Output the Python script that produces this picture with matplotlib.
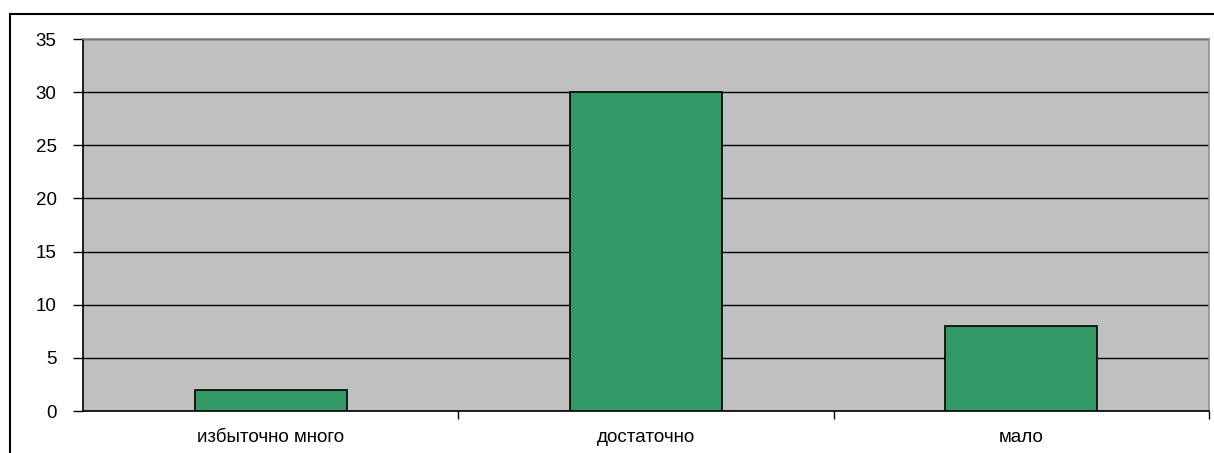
import matplotlib.pyplot as plt
from matplotlib.lines import Line2D

categories = ["избыточно много", "достаточно", "мало"]
values = [2, 30, 8]
yticks = [0, 5, 10, 15, 20, 25, 30, 35]

plt.rcParams['font.family'] = ['Liberation Sans', 'DejaVu Sans']

fig = plt.figure(figsize=(12.14, 4.53), dpi=100)
ax = fig.add_axes([83 / 1214, 1 - 411 / 453, (1209 - 83) / 1214, (411 - 39) / 453])
ax.set_facecolor("#C0C0C0")

x = list(range(len(categories)))
ax.bar(x, values, width=0.405, color="#339966", edgecolor="black", linewidth=1.2, zorder=3)

ax.set_xlim(-0.5, len(categories) - 0.5)
ax.set_ylim(0, 35)
ax.set_yticks(yticks)
ax.yaxis.grid(True, color="black", linewidth=1)
ax.set_axisbelow(True)

ax.set_xticks(x)
ax.set_xticklabels(categories, fontsize=13.5)
ax.set_xticks([i + 0.5 for i in x], minor=True)
ax.tick_params(axis="x", which="major", length=0, pad=13)
ax.tick_params(axis="x", which="minor", length=6, width=1, color="black")
ax.tick_params(axis="y", length=7, width=1, labelsize=13.5, pad=12)

ax.spines["left"].set_color("black")
ax.spines["bottom"].set_color("black")
ax.spines["top"].set_color("#909090")
ax.spines["right"].set_color("#909090")
for s in ax.spines.values():
    s.set_linewidth(1.2)

# outer frame of the chart area (left and top edges)
fig.add_artist(Line2D([10 / 1214, 10 / 1214], [0, 1 - 14 / 453], color="black", linewidth=1.5))
fig.add_artist(Line2D([10 / 1214, 1], [1 - 14 / 453, 1 - 14 / 453], color="black", linewidth=1.5))

fig.savefig("out.png", dpi=100)
